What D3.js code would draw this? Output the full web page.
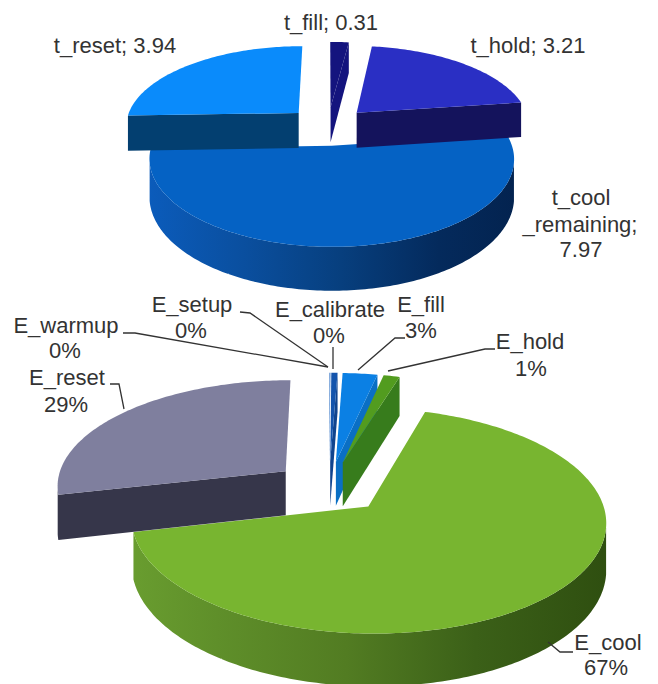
<!DOCTYPE html>
<html>
<head>
<meta charset="utf-8">
<script src="https://d3js.org/d3.v7.min.js"></script>
<style>
  html, body { margin: 0; padding: 0; background: #fff; }
  text { font-family: "Liberation Sans", Arial, sans-serif; font-size: 22px; fill: #333; text-anchor: middle; }
</style>
</head>
<body>
<div id="chart"></div>
<script>
// Top pie: cycle time per phase (clockwise from 12 o'clock)
const timeCategories = ["t_fill", "t_hold", "t_cool_remaining", "t_reset"];
const timeValues     = [0.31, 3.21, 7.97, 3.94];

// Bottom pie: energy share per phase. The first few are shown as 0% but still have a sliver
const energyCategories = ["E_warmup", "E_setup", "E_calibrate", "E_fill", "E_hold", "E_cool", "E_reset"];
const energyValues     = [0.05, 0.05, 0.5, 2.8, 1.3, 66.7, 28.6];

const W = 658, H = 684;

const svg = d3.select("#chart").append("svg")
  .attr("width", W).attr("height", H)
  .attr("viewBox", `0 0 ${W} ${H}`);
const defs = svg.append("defs");

// Perspective pie. u/v live in disc units (radius 1), k is the strength of the perspective
function drawPie(cfg) {
  const sx = d3.scaleLinear().domain([0, 1]).range([cfg.cx, cfg.cx + cfg.rx]);
  const sy = d3.scaleLinear().domain([0, 1]).range([cfg.cy, cfg.cy + cfg.ry]);
  const project = (u, v, drop) => {
    const w = 1 / (1 - cfg.k * v);
    return [sx(u * w), sy(v * w) + drop * w];
  };
  const line = d3.line();

  const arcs = d3.pie().sort(null).value(d => d.value)(
    cfg.categories.map((c, i) => ({ name: c, value: cfg.values[i] }))
  );

  const g = svg.append("g").attr("class", cfg.id);

  // Big front slice goes first: the exploded back slices hang over its rim
  const biggest = arcs.slice().sort((a, b) => d3.descending(a.data.value, b.data.value))[0];
  const painted = [biggest, ...arcs.filter(a => a !== biggest)];

  painted.forEach(a => {
    const style = cfg.styles[a.data.name];
    const mid = (a.startAngle + a.endAngle) / 2;
    const u0 = cfg.explode * Math.sin(mid);
    const v0 = -cfg.explode * Math.cos(mid);

    // Outline of the slice in disc units, about one sample per degree
    const steps = Math.max(2, Math.ceil((a.endAngle - a.startAngle) * 180 / Math.PI));
    const outline = [[u0, v0]].concat(d3.range(steps + 1).map(i => {
      const t = a.startAngle + (a.endAngle - a.startAngle) * i / steps;
      return [u0 + Math.sin(t), v0 - Math.cos(t)];
    }));

    let sideFill = style.side;
    if (Array.isArray(style.side)) {
      // Horizontal shading across the rim
      const gradId = `${cfg.id}-rim`;
      const grad = defs.append("linearGradient").attr("id", gradId)
        .attr("gradientUnits", "userSpaceOnUse")
        .attr("x1", sx(-1.05)).attr("x2", sx(1.2)).attr("y1", 0).attr("y2", 0);
      style.side.forEach((c, i) => {
        grad.append("stop").attr("offset", i / (style.side.length - 1)).attr("stop-color", c);
      });
      sideFill = `url(#${gradId})`;
    }

    // One quad per outline edge gives the walls, wound the same way so they merge under
    // the nonzero rule. Outline runs clockwise on screen, so only edges heading left face
    // the viewer; nearly vertical ones are dropped to avoid a dark sliver on the cut faces
    const closed = outline.concat([outline[0]]);
    const wallPath = d3.pairs(closed).map(([p, q]) => {
      const a0 = project(p[0], p[1], 0), b0 = project(q[0], q[1], 0);
      const dx = b0[0] - a0[0], dy = b0[1] - a0[1];
      if (dx > -0.08 * Math.abs(dy)) return "";
      const quad = [a0, b0, project(q[0], q[1], cfg.depth), project(p[0], p[1], cfg.depth)];
      if (d3.polygonArea(quad) < 0) quad.reverse();
      return line(quad) + "Z";
    }).join("");

    g.append("path")
      .attr("d", wallPath)
      .attr("fill", sideFill);

    g.append("path")
      .attr("d", line(outline.map(p => project(p[0], p[1], 0))) + "Z")
      .attr("fill", style.top);
  });
}

drawPie({
  id: "time", categories: timeCategories, values: timeValues,
  cx: 328, cy: 126, rx: 174, ry: 80, k: 0.145, depth: 36, explode: 0.24,
  styles: {
    t_fill: { top: "#14147e", side: "#14147e" },
    t_hold: { top: "#2a2fc4", side: "#14135c" },
    t_cool_remaining: { top: "#0562c4", side: ["#0b5cbc", "#0a4f9f", "#073f7e", "#042a5c", "#03214c"] },
    t_reset: { top: "#0a8bfb", side: "#033f70" }
  }
});

drawPie({
  id: "energy", categories: energyCategories, values: energyValues,
  cx: 329, cy: 487, rx: 230, ry: 106, k: 0.125, depth: 45, explode: 0.245,
  styles: {
    E_warmup: { top: "#5a8fd0", side: "#4a7ab8" },
    E_setup: { top: "#3a78c8", side: "#2c62a8" },
    E_calibrate: { top: "#1454ac", side: "#10448e" },
    E_fill: { top: "#0b80e4", side: "#0a6fc4" },
    E_hold: { top: "#529c1f", side: "#377c1c" },
    E_cool: { top: "#78b530", side: ["#6ea432", "#5f8f2a", "#527c22", "#3b6018", "#2f4f10"] },
    E_reset: { top: "#7f7f9e", side: "#36364a" }
  }
});

// Leader lines from the bottom pie's labels to their slices
const leaders = [
  [[123, 333], [135, 333], [328, 367]],
  [[240, 312], [250, 313], [328, 367]],
  [[333, 347], [333, 369]],
  [[405, 338], [395, 338], [358, 370]],
  [[495, 349], [485, 349], [388, 371]],
  [[110, 384], [119, 384], [124, 409]],
  [[573, 652], [560, 652], [548, 642]]
];

svg.append("g").selectAll("path")
  .data(leaders)
  .join("path")
    .attr("d", d3.line())
    .attr("fill", "none")
    .attr("stroke", "#333")
    .attr("stroke-width", 1.3);

// Label text with its position: [text, centre x, baseline y]
const labels = [
  ["t_fill; 0.31", 331, 30],
  ["t_hold; 3.21", 528, 53],
  ["t_reset; 3.94", 115, 53],
  ["t_cool", 581, 205],
  ["_remaining;", 580, 232],
  ["7.97", 581, 257],
  ["E_warmup", 66, 333],
  ["0%", 65, 358],
  ["E_setup", 192, 312],
  ["0%", 191, 338],
  ["E_calibrate", 330, 317],
  ["0%", 329, 343],
  ["E_fill", 421, 312],
  ["3%", 421, 338],
  ["E_hold", 530, 349],
  ["1%", 531, 376],
  ["E_reset", 67, 385],
  ["29%", 66, 412],
  ["E_cool", 608, 650],
  ["67%", 606, 675]
];

svg.append("g").selectAll("text")
  .data(labels)
  .join("text")
    .attr("x", d => d[1])
    .attr("y", d => d[2])
    .text(d => d[0]);
</script>
</body>
</html>
